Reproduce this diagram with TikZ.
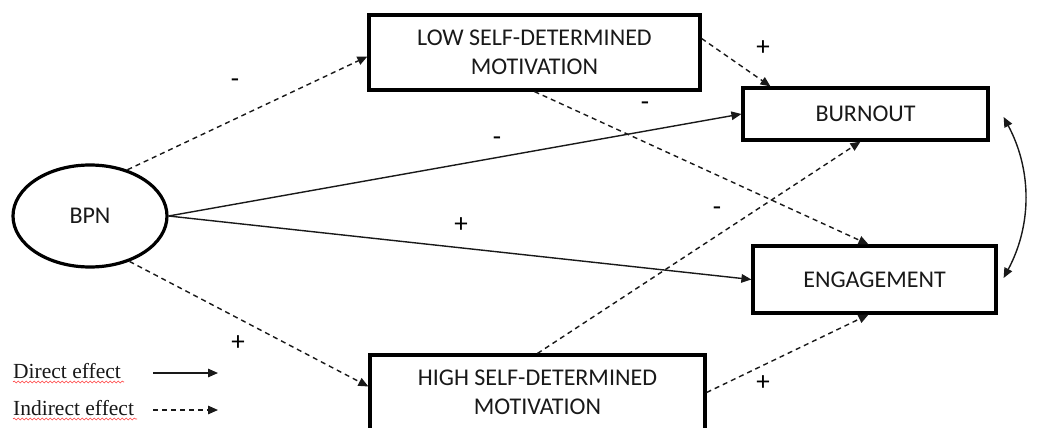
\documentclass[tikz,border=0pt]{standalone}
\usepackage{fontspec}
\setmainfont{Carlito}
\newfontfamily\legfont{Liberation Serif}
\usetikzlibrary{shapes.geometric,arrows.meta,decorations.pathmorphing}
\begin{document}
\begin{tikzpicture}[x=1pt,y=-1pt,
  box/.style={draw, line width=3.2pt, inner sep=0pt, align=center, text=black!90,
    font=\fontsize{24}{28.5}\selectfont},
  dir/.style={line width=1.4pt, draw=black!90, -{Triangle[length=10pt,width=8.5pt]}},
  ind/.style={dir, dash pattern=on 5pt off 4pt},
  sign/.style={inner sep=0pt, font=\fontsize{27}{27}\selectfont},
  leg/.style={inner sep=0pt, font=\legfont\fontsize{21.5}{24}\selectfont, text=black!90},
  squig/.style={draw=red!75, line width=0.6pt, decorate, decoration={snake, amplitude=1pt, segment length=4pt}}]
\useasboundingbox (0,0) rectangle (1041,428);
\fill[white] (0,0) rectangle (1041,428);

% nodes
\node[ellipse, draw, line width=3.2pt, minimum width=154pt, minimum height=102pt, inner sep=0pt,
  font=\fontsize{24}{28}\selectfont, text=black!90] (bpn) at (90,216) {BPN};
\node[box, minimum width=331pt, minimum height=75pt] (low) at (534.5,52.5) {LOW SELF-DETERMINED\\MOTIVATION};
\node[box, minimum width=245pt, minimum height=52pt] (burn) at (865.5,114) {BURNOUT};
\node[box, minimum width=243pt, minimum height=67pt] (eng) at (874.5,279.5) {ENGAGEMENT};
\node[box, minimum width=335pt, minimum height=75pt] (high) at (537.5,392.5) {HIGH SELF-DETERMINED\\MOTIVATION};

% connectors
\draw[ind] (bpn.51) -- ([yshift=-4pt]low.west);
\draw[ind] (bpn.-49) -- ([yshift=6pt]high.west);
\draw[dir] (bpn.east) -- (burn.west);
\draw[dir] (bpn.east) -- (eng.west);
\draw[ind] ([yshift=14pt]low.east) -- ([xshift=-95pt]burn.north);
\draw[ind] (low.south) -- ([xshift=-6pt]eng.north);
\draw[ind] (high.north) -- ([xshift=-5pt]burn.south);
\draw[ind] (high.east) -- ([xshift=-6pt]eng.south);
\draw[line width=1.4pt, draw=black!90, {Triangle[length=10pt,width=8.5pt]}-{Triangle[length=10pt,width=8.5pt]}]
  ([xshift=14pt,yshift=-3pt]burn.east) .. controls (1032,170) and (1032,225) .. ([xshift=6pt,yshift=1.5pt]eng.east);

% signs
\node[sign] (s1) at (235,83) {-};
\node[sign] (s2) at (763,48) {+};
\node[sign] (s3) at (645,106) {-};
\node[sign] (s4) at (497,141) {-};
\node[sign] (s5) at (461,225) {+};
\node[sign] (s6) at (717,211) {-};
\node[sign] (s7) at (238,343) {+};
\node[sign] (s8) at (763,383) {+};

% legend
\node[leg, anchor=base west] (l1) at (13,378) {Direct effect};
\node[leg, anchor=base west] (l2) at (13,415) {Indirect effect};
\path[squig] ([yshift=-4pt]l1.base west) -- ([yshift=-4pt,xshift=3pt]l1.base east);
\path[squig] ([yshift=-4pt]l2.base west) -- ([yshift=-4pt,xshift=3pt]l2.base east);
\coordinate (d1) at (153,373);
\coordinate (d2) at (218,373);
\coordinate (i1) at (153,410);
\coordinate (i2) at (218,410);
\draw[dir] (d1) -- (d2);
\draw[ind] (i1) -- (i2);
\end{tikzpicture}
\end{document}
